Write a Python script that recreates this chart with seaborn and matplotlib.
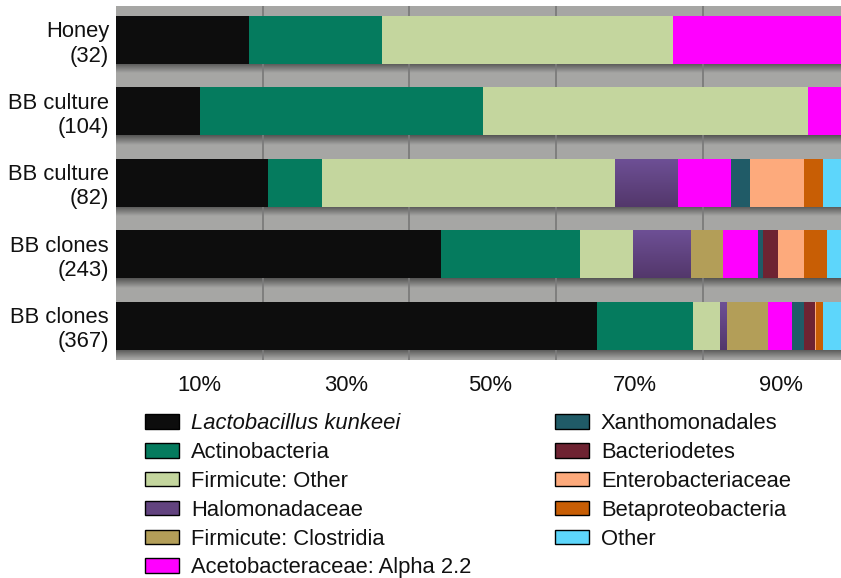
import numpy as np
import pandas as pd
import matplotlib
matplotlib.use("Agg")
import matplotlib.pyplot as plt
import seaborn as sns
from matplotlib.patches import Patch

# Samples (rows, top to bottom) with number of sequences
samples = ["Honey\n(32)", "BB culture\n(104)", "BB culture\n(82)",
           "BB clones\n(243)", "BB clones\n(367)"]

taxa = ["Lactobacillus kunkeei", "Actinobacteria", "Firmicute: Other",
        "Halomonadaceae", "Firmicute: Clostridia", "Acetobacteraceae: Alpha 2.2",
        "Xanthomonadales", "Bacteriodetes", "Enterobacteriaceae",
        "Betaproteobacteria", "Other"]

# Percent of each sample per taxon (same order as `samples`)
lactobacillus = [18.1, 11.5, 20.7, 44.3, 65.6]
actinobacteria = [18.2, 38.5, 7.4, 18.9, 13.1]
firmicute_other = [39.6, 44.3, 40.0, 7.3, 3.6]
halomonadaceae = [0.0, 0.0, 8.5, 7.8, 1.0]
clostridia = [0.0, 0.0, 0.0, 4.5, 5.6]
acetobacteraceae = [24.1, 5.7, 7.3, 4.7, 3.3]
xanthomonadales = [0.0, 0.0, 2.6, 0.7, 1.6]
bacteriodetes = [0.0, 0.0, 0.0, 2.1, 1.5]
enterobacteriaceae = [0.0, 0.0, 7.3, 3.5, 0.2]
betaproteobacteria = [0.0, 0.0, 2.6, 3.1, 0.9]
other = [0.0, 0.0, 3.6, 3.1, 3.6]

colors = ["#0d0d0d", "#057b5e", "#c4d69e", "#62437f", "#b39e58", "#ff00ff",
          "#205b67", "#6e2332", "#fdaa7c", "#c85e05", "#5dd6fb"]

tick_values = [10, 30, 50, 70, 90]
grid_values = [20, 40, 60, 80]

values = np.array([lactobacillus, actinobacteria, firmicute_other, halomonadaceae,
                   clostridia, acetobacteraceae, xanthomonadales, bacteriodetes,
                   enterobacteriaceae, betaproteobacteria, other])
cum = np.cumsum(values, axis=0)

sns.set_theme(style="white")
plt.rcParams["font.family"] = ["Liberation Sans", "DejaVu Sans"]
FS = 15.8

fig = plt.figure(figsize=(8.41, 5.78), dpi=100)
ax = fig.add_axes([116 / 841, 1 - 359.5 / 578, 725 / 841, 353.5 / 578])
ax.set_facecolor("#a6a6a4")

BAR_H = 0.672
XMAX = 98.85

# soft shadow band under every bar
shade = np.zeros((40, 2, 4))
shade[..., 3] = np.linspace(0.5, 0.0, 40)[:, None]
for r in range(len(samples)):
    yb = r + BAR_H / 2
    ax.imshow(shade, extent=[0, 100, yb + 0.13, yb], origin="upper",
              aspect="auto", zorder=0.3, interpolation="bilinear")

for g in grid_values:
    ax.axvline(g, color="#7b7b7b", lw=1.3, zorder=0.4)

# stacked bars: cumulative totals drawn from the right-most segment inwards
purple = "Halomonadaceae"
grad = np.linspace(0, 1, 64)[:, None, None]
top_c = np.array(matplotlib.colors.to_rgb("#6e5096"))
bot_c = np.array(matplotlib.colors.to_rgb("#53376b"))
grad_img = top_c * (1 - grad) + bot_c * grad
for i in range(len(taxa) - 1, -1, -1):
    df = pd.DataFrame({"sample": samples, "total": cum[i]})
    sns.barplot(data=df, x="total", y="sample", order=samples, orient="h",
                color=colors[i], saturation=1, width=BAR_H, linewidth=0,
                errorbar=None, ax=ax, zorder=1)
    if taxa[i] == purple:
        for p in ax.containers[-1]:
            w = p.get_width()
            if w <= 0:
                continue
            y0 = p.get_y()
            im = ax.imshow(grad_img, extent=[0, w, y0 + BAR_H, y0], origin="upper",
                           aspect="auto", zorder=1, interpolation="bilinear")
            im.set_clip_path(p)

ax.set_xlim(0, XMAX)
ax.set_ylim(len(samples) - 1 + 0.473, -0.473)
ax.set_xlabel("")
ax.set_ylabel("")
for s in ax.spines.values():
    s.set_visible(False)

label_nudge = [1.4, 1.35, 1.0, 0.7, 0.6]
ax.set_xticks([v + n for v, n in zip(tick_values, label_nudge)],
              [f"{v}%" for v in tick_values])
ax.tick_params(axis="x", length=0, pad=11.5, labelsize=FS, colors="#111111")
ax.tick_params(axis="y", length=0, pad=5, labelsize=FS, colors="#111111")
for t in ax.get_yticklabels():
    t.set_linespacing(1.2)

handles = [Patch(facecolor=c, edgecolor="black", linewidth=1.0) for c in colors]
leg = fig.legend(handles, taxa, loc="upper left",
                 bbox_to_anchor=(145 / 841, 1 - 413 / 578), ncol=2,
                 frameon=False, fontsize=FS, handlelength=1.55, handleheight=0.65,
                 handletextpad=0.55, labelspacing=0.36, columnspacing=3.8,
                 borderpad=0, borderaxespad=0)
for t in leg.get_texts():
    t.set_color("#111111")
leg.get_texts()[0].set_fontstyle("italic")

fig.savefig("out.png", dpi=100)
